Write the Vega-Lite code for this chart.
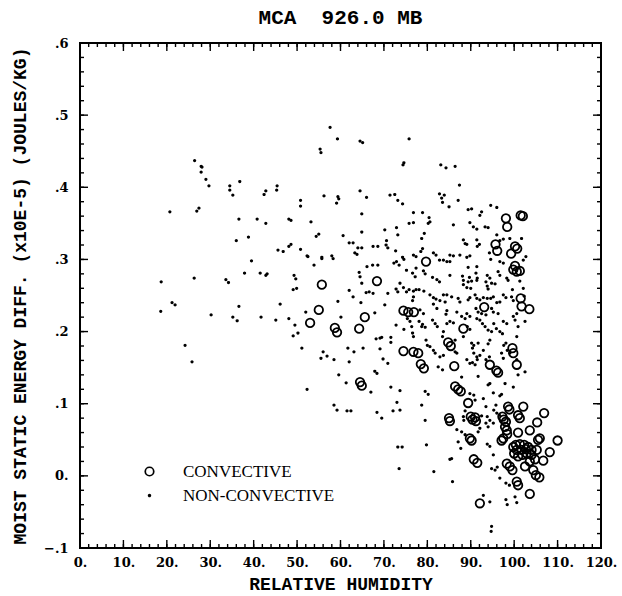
{
  "$schema": "https://vega.github.io/schema/vega-lite/v6.json",
  "width": 521,
  "height": 505,
  "padding": {"left": 80, "top": 43, "right": 21, "bottom": 48},
  "autosize": {"type": "none"},
  "background": "white",
  "title": {
    "text": "MCA\u00a0\u00a0926.0 MB",
    "font": "Liberation Mono",
    "fontSize": 21,
    "fontWeight": "bold",
    "color": "black",
    "anchor": "middle",
    "offset": 9
  },
  "config": {
    "view": {"stroke": "black", "strokeWidth": 2, "fill": null},
    "axis": {
      "domain": false,
      "tickOpacity": 0,
      "tickSize": -5,
      "labelFont": "DejaVu Serif",
      "labelFontWeight": "bold",
      "labelFontSize": 13,
      "labelColor": "black",
      "titleFont": "Liberation Mono",
      "titleFontWeight": "bold",
      "titleFontSize": 18,
      "titleColor": "black",
      "grid": false,
      "labelOverlap": false,
      "labelFlush": false
    }
  },
  "datasets": {
    "xticks": [{"v":0},{"v":2},{"v":4},{"v":6},{"v":8},{"v":10},{"v":12},{"v":14},{"v":16},{"v":18},{"v":20},{"v":22},{"v":24},{"v":26},{"v":28},{"v":30},{"v":32},{"v":34},{"v":36},{"v":38},{"v":40},{"v":42},{"v":44},{"v":46},{"v":48},{"v":50},{"v":52},{"v":54},{"v":56},{"v":58},{"v":60},{"v":62},{"v":64},{"v":66},{"v":68},{"v":70},{"v":72},{"v":74},{"v":76},{"v":78},{"v":80},{"v":82},{"v":84},{"v":86},{"v":88},{"v":90},{"v":92},{"v":94},{"v":96},{"v":98},{"v":100},{"v":102},{"v":104},{"v":106},{"v":108},{"v":110},{"v":112},{"v":114},{"v":116},{"v":118},{"v":120}],
    "yticks": [{"v":-0.1},{"v":-0.08},{"v":-0.06},{"v":-0.04},{"v":-0.02},{"v":0},{"v":0.02},{"v":0.04},{"v":0.06},{"v":0.08},{"v":0.1},{"v":0.12},{"v":0.14},{"v":0.16},{"v":0.18},{"v":0.2},{"v":0.22},{"v":0.24},{"v":0.26},{"v":0.28},{"v":0.3},{"v":0.32},{"v":0.34},{"v":0.36},{"v":0.38},{"v":0.4},{"v":0.42},{"v":0.44},{"v":0.46},{"v":0.48},{"v":0.5},{"v":0.52},{"v":0.54},{"v":0.56},{"v":0.58},{"v":0.6}],
    "noncon": [
      {"rh":26.4,"mse":0.437},{"rh":27.9,"mse":0.429},{"rh":28.1,"mse":0.428},{"rh":27.9,"mse":0.421},{"rh":29.0,"mse":0.411},{"rh":29.7,"mse":0.402},{"rh":20.7,"mse":0.366},{"rh":26.9,"mse":0.367},{"rh":27.4,"mse":0.371},{"rh":34.5,"mse":0.402},{"rh":34.5,"mse":0.396},{"rh":35.2,"mse":0.389},{"rh":36.8,"mse":0.408},{"rh":36.6,"mse":0.356},{"rh":36.0,"mse":0.326},{"rh":38.8,"mse":0.331},{"rh":37.9,"mse":0.281},{"rh":18.7,"mse":0.269},{"rh":26.3,"mse":0.274},{"rh":33.6,"mse":0.272},{"rh":34.2,"mse":0.268},
      {"rh":57.6,"mse":0.483},{"rh":59.3,"mse":0.467},{"rh":64.5,"mse":0.464},{"rh":65.1,"mse":0.462},{"rh":55.3,"mse":0.453},{"rh":55.5,"mse":0.448},{"rh":42.8,"mse":0.395},{"rh":42.4,"mse":0.390},{"rh":45.4,"mse":0.402},{"rh":45.3,"mse":0.396},{"rh":50.8,"mse":0.382},{"rh":50.8,"mse":0.374},{"rh":56.2,"mse":0.388},{"rh":59.4,"mse":0.387},{"rh":59.6,"mse":0.384},{"rh":59.1,"mse":0.378},{"rh":64.5,"mse":0.395},{"rh":66.0,"mse":0.386},{"rh":71.4,"mse":0.389},{"rh":72.5,"mse":0.390},{"rh":73.2,"mse":0.382},{"rh":40.8,"mse":0.356},{"rh":42.8,"mse":0.350},{"rh":48.1,"mse":0.356},{"rh":48.6,"mse":0.354},{"rh":53.2,"mse":0.352},{"rh":64.9,"mse":0.363},{"rh":64.9,"mse":0.338},{"rh":55.0,"mse":0.335},{"rh":54.4,"mse":0.332},{"rh":60.6,"mse":0.333},{"rh":62.0,"mse":0.323},{"rh":62.9,"mse":0.323},{"rh":64.0,"mse":0.316},{"rh":64.9,"mse":0.316},{"rh":63.3,"mse":0.309},{"rh":63.8,"mse":0.307},{"rh":67.5,"mse":0.318},{"rh":68.6,"mse":0.318},{"rh":70.6,"mse":0.326},{"rh":70.5,"mse":0.320},{"rh":70.9,"mse":0.316},{"rh":70.2,"mse":0.341},{"rh":72.9,"mse":0.344},{"rh":73.2,"mse":0.334},{"rh":72.7,"mse":0.312},{"rh":45.6,"mse":0.313},{"rh":46.8,"mse":0.311},{"rh":48.1,"mse":0.318},{"rh":48.6,"mse":0.321},{"rh":50.8,"mse":0.314},{"rh":52.3,"mse":0.305},{"rh":52.5,"mse":0.304},{"rh":55.7,"mse":0.303},{"rh":55.7,"mse":0.301},{"rh":58.0,"mse":0.305},{"rh":58.3,"mse":0.301},{"rh":53.9,"mse":0.292},{"rh":39.5,"mse":0.298},{"rh":41.5,"mse":0.281},{"rh":42.8,"mse":0.278},{"rh":43.1,"mse":0.280},{"rh":49.3,"mse":0.278},{"rh":49.7,"mse":0.273},{"rh":49.9,"mse":0.260},{"rh":49.1,"mse":0.258},{"rh":62.0,"mse":0.257},{"rh":64.3,"mse":0.282},{"rh":64.5,"mse":0.276},{"rh":64.9,"mse":0.267},{"rh":65.9,"mse":0.254},{"rh":66.6,"mse":0.255},{"rh":67.5,"mse":0.253},{"rh":66.1,"mse":0.290},{"rh":67.4,"mse":0.292},{"rh":68.6,"mse":0.292},{"rh":70.9,"mse":0.253},{"rh":72.8,"mse":0.259},{"rh":73.2,"mse":0.255},{"rh":72.3,"mse":0.295},{"rh":72.9,"mse":0.297},{"rh":73.5,"mse":0.292},{"rh":62.9,"mse":0.248},
      {"rh":18.6,"mse":0.228},{"rh":21.2,"mse":0.240},{"rh":21.9,"mse":0.237},{"rh":24.2,"mse":0.181},{"rh":25.8,"mse":0.158},{"rh":30.2,"mse":0.223},{"rh":35.2,"mse":0.220},{"rh":36.2,"mse":0.215},{"rh":36.6,"mse":0.235},{"rh":41.7,"mse":0.220},{"rh":45.1,"mse":0.216},{"rh":46.1,"mse":0.238},{"rh":48.1,"mse":0.218},{"rh":49.5,"mse":0.209},{"rh":49.1,"mse":0.194},{"rh":50.2,"mse":0.198},{"rh":51.1,"mse":0.177},{"rh":52.0,"mse":0.227},{"rh":52.3,"mse":0.120},{"rh":59.4,"mse":0.242},{"rh":60.1,"mse":0.220},{"rh":64.7,"mse":0.240},{"rh":67.9,"mse":0.226},{"rh":70.2,"mse":0.237},{"rh":56.0,"mse":0.172},{"rh":56.9,"mse":0.166},{"rh":55.5,"mse":0.163},{"rh":58.5,"mse":0.161},{"rh":61.7,"mse":0.177},{"rh":63.1,"mse":0.172},{"rh":65.2,"mse":0.177},{"rh":62.0,"mse":0.158},{"rh":59.6,"mse":0.140},{"rh":61.3,"mse":0.129},{"rh":67.0,"mse":0.116},{"rh":68.2,"mse":0.190},{"rh":69.1,"mse":0.191},{"rh":69.5,"mse":0.192},{"rh":71.6,"mse":0.192},{"rh":71.6,"mse":0.185},{"rh":72.8,"mse":0.209},{"rh":69.1,"mse":0.176},{"rh":69.8,"mse":0.162},{"rh":70.9,"mse":0.156},{"rh":67.9,"mse":0.145},{"rh":68.4,"mse":0.142},{"rh":71.6,"mse":0.123},{"rh":73.7,"mse":0.118},{"rh":73.0,"mse":0.102},{"rh":73.7,"mse":0.091},{"rh":72.1,"mse":0.090},{"rh":68.4,"mse":0.088},{"rh":69.5,"mse":0.080},{"rh":58.5,"mse":0.098},{"rh":59.2,"mse":0.091},{"rh":61.5,"mse":0.090},{"rh":62.4,"mse":0.090},{"rh":73.2,"mse":0.040},{"rh":74.2,"mse":0.040},{"rh":73.5,"mse":0.010},
      {"rh":75.8,"mse":0.467},{"rh":74.6,"mse":0.434},{"rh":74.4,"mse":0.431},{"rh":83.1,"mse":0.431},{"rh":84.3,"mse":0.427},{"rh":86.4,"mse":0.429},
      {"rh":87.4,"mse":0.403},{"rh":82.8,"mse":0.391},{"rh":83.9,"mse":0.389},{"rh":83.3,"mse":0.385},{"rh":83.5,"mse":0.379},{"rh":87.1,"mse":0.382},{"rh":85.0,"mse":0.373},{"rh":74.3,"mse":0.377},{"rh":76.8,"mse":0.365},{"rh":78.9,"mse":0.365},{"rh":80.4,"mse":0.358},{"rh":75.8,"mse":0.350},{"rh":76.8,"mse":0.351},{"rh":80.6,"mse":0.352},{"rh":80.2,"mse":0.350},{"rh":79.3,"mse":0.336},{"rh":78.7,"mse":0.329},{"rh":89.4,"mse":0.369},{"rh":90.2,"mse":0.370},{"rh":92.5,"mse":0.366},{"rh":92.1,"mse":0.361},{"rh":94.6,"mse":0.375},{"rh":96.0,"mse":0.372},{"rh":86.0,"mse":0.348},{"rh":89.8,"mse":0.351},{"rh":90.6,"mse":0.345},{"rh":91.4,"mse":0.342},{"rh":93.3,"mse":0.345},{"rh":94.0,"mse":0.344},{"rh":96.0,"mse":0.334},{"rh":96.7,"mse":0.326},{"rh":97.5,"mse":0.328},{"rh":99.0,"mse":0.329},{"rh":101.7,"mse":0.329},{"rh":88.3,"mse":0.327},{"rh":88.7,"mse":0.322},{"rh":89.1,"mse":0.321},{"rh":91.4,"mse":0.327},{"rh":92.0,"mse":0.321},{"rh":91.5,"mse":0.318},{"rh":94.3,"mse":0.309},{"rh":94.6,"mse":0.300},{"rh":89.8,"mse":0.305},{"rh":89.1,"mse":0.303},{"rh":78.9,"mse":0.315},{"rh":78.5,"mse":0.311},{"rh":76.8,"mse":0.306},{"rh":77.4,"mse":0.304},{"rh":74.3,"mse":0.303},{"rh":74.6,"mse":0.300},{"rh":81.4,"mse":0.309},{"rh":82.0,"mse":0.306},{"rh":82.8,"mse":0.299},{"rh":83.7,"mse":0.299},{"rh":84.5,"mse":0.297},{"rh":85.2,"mse":0.297},{"rh":85.2,"mse":0.306},{"rh":86.0,"mse":0.305},{"rh":87.5,"mse":0.306},{"rh":91.4,"mse":0.290},{"rh":89.4,"mse":0.289},{"rh":102.7,"mse":0.304},{"rh":102.1,"mse":0.299},{"rh":96.7,"mse":0.297},{"rh":97.5,"mse":0.295},{"rh":75.2,"mse":0.285},{"rh":77.4,"mse":0.288},{"rh":76.6,"mse":0.281},{"rh":77.2,"mse":0.276},{"rh":79.1,"mse":0.284},{"rh":79.5,"mse":0.280},{"rh":81.2,"mse":0.275},{"rh":82.2,"mse":0.272},{"rh":82.8,"mse":0.269},{"rh":85.2,"mse":0.278},{"rh":88.1,"mse":0.277},{"rh":88.3,"mse":0.271},{"rh":89.7,"mse":0.275},{"rh":89.4,"mse":0.269},{"rh":90.2,"mse":0.270},{"rh":88.3,"mse":0.265},{"rh":89.1,"mse":0.261},{"rh":90.0,"mse":0.260},{"rh":91.2,"mse":0.281},{"rh":91.5,"mse":0.274},{"rh":93.8,"mse":0.278},{"rh":94.4,"mse":0.274},{"rh":94.8,"mse":0.267},{"rh":95.6,"mse":0.266},{"rh":96.3,"mse":0.283},{"rh":96.7,"mse":0.278},{"rh":98.3,"mse":0.274},{"rh":98.6,"mse":0.271},{"rh":93.5,"mse":0.269},{"rh":93.8,"mse":0.263},{"rh":94.0,"mse":0.259},{"rh":91.4,"mse":0.271},{"rh":101.3,"mse":0.270},{"rh":99.6,"mse":0.258},{"rh":102.1,"mse":0.260},{"rh":73.7,"mse":0.267},{"rh":74.5,"mse":0.261},{"rh":75.2,"mse":0.255},{"rh":75.8,"mse":0.258},{"rh":76.8,"mse":0.256},{"rh":77.4,"mse":0.258},{"rh":78.1,"mse":0.258},{"rh":79.2,"mse":0.256},{"rh":76.8,"mse":0.248},{"rh":76.6,"mse":0.243},{"rh":80.6,"mse":0.251},{"rh":81.4,"mse":0.247},{"rh":82.0,"mse":0.245},{"rh":83.7,"mse":0.251},{"rh":84.5,"mse":0.251},{"rh":85.6,"mse":0.248},{"rh":82.9,"mse":0.243},{"rh":84.1,"mse":0.241},{"rh":87.1,"mse":0.246},{"rh":87.5,"mse":0.241},{"rh":89.4,"mse":0.244},{"rh":89.8,"mse":0.247},{"rh":91.0,"mse":0.251},{"rh":91.4,"mse":0.246},{"rh":92.1,"mse":0.244},{"rh":92.9,"mse":0.247},{"rh":93.8,"mse":0.246},{"rh":94.6,"mse":0.246},{"rh":95.2,"mse":0.248},{"rh":96.0,"mse":0.240},{"rh":96.7,"mse":0.241},{"rh":97.5,"mse":0.251},{"rh":98.1,"mse":0.247},{"rh":99.4,"mse":0.248},{"rh":99.8,"mse":0.243},{"rh":102.3,"mse":0.249},{"rh":94.8,"mse":0.232},{"rh":95.2,"mse":0.227},{"rh":96.3,"mse":0.225},{"rh":91.2,"mse":0.232},{"rh":91.7,"mse":0.227},{"rh":92.5,"mse":0.225},{"rh":93.5,"mse":0.223},{"rh":89.1,"mse":0.225},{"rh":89.8,"mse":0.221},{"rh":87.9,"mse":0.221},{"rh":88.7,"mse":0.218},{"rh":86.8,"mse":0.227},{"rh":84.3,"mse":0.224},{"rh":84.5,"mse":0.229},{"rh":81.4,"mse":0.238},{"rh":82.2,"mse":0.232},{"rh":78.3,"mse":0.230},{"rh":79.1,"mse":0.225},{"rh":75.4,"mse":0.218},{"rh":76.0,"mse":0.214},{"rh":78.1,"mse":0.214},{"rh":78.7,"mse":0.207},{"rh":81.2,"mse":0.216},{"rh":81.8,"mse":0.211},{"rh":82.3,"mse":0.207},{"rh":84.5,"mse":0.211},{"rh":85.2,"mse":0.214},{"rh":86.0,"mse":0.212},{"rh":89.2,"mse":0.207},{"rh":89.8,"mse":0.203},{"rh":91.4,"mse":0.218},{"rh":92.1,"mse":0.216},{"rh":92.7,"mse":0.211},{"rh":93.3,"mse":0.207},{"rh":94.0,"mse":0.202},{"rh":94.8,"mse":0.200},{"rh":95.3,"mse":0.211},{"rh":95.9,"mse":0.204},{"rh":97.5,"mse":0.214},{"rh":98.3,"mse":0.211},{"rh":96.7,"mse":0.200},{"rh":97.3,"mse":0.197},{"rh":99.8,"mse":0.221},{"rh":100.2,"mse":0.216},{"rh":100.6,"mse":0.225},{"rh":100.9,"mse":0.207},{"rh":100.6,"mse":0.193},{"rh":102.5,"mse":0.214},{"rh":74.6,"mse":0.203},{"rh":76.4,"mse":0.207},{"rh":76.6,"mse":0.198},{"rh":78.9,"mse":0.210},{"rh":79.5,"mse":0.206},{"rh":76.8,"mse":0.193},{"rh":83.7,"mse":0.200},{"rh":83.5,"mse":0.193},{"rh":86.4,"mse":0.188},{"rh":88.3,"mse":0.193},{"rh":90.2,"mse":0.184},{"rh":90.7,"mse":0.181},{"rh":91.7,"mse":0.184},{"rh":94.4,"mse":0.188},{"rh":94.0,"mse":0.183},{"rh":97.6,"mse":0.181},{"rh":98.1,"mse":0.184},{"rh":98.4,"mse":0.174},{"rh":99.0,"mse":0.170},{"rh":79.7,"mse":0.188},{"rh":80.0,"mse":0.181},{"rh":80.6,"mse":0.179},{"rh":81.4,"mse":0.174},{"rh":81.8,"mse":0.170},{"rh":82.9,"mse":0.165},{"rh":83.7,"mse":0.167},{"rh":86.4,"mse":0.172},{"rh":86.8,"mse":0.170},{"rh":90.4,"mse":0.177},{"rh":90.7,"mse":0.170},{"rh":91.4,"mse":0.165},{"rh":92.1,"mse":0.167},{"rh":92.9,"mse":0.174},{"rh":89.1,"mse":0.161},{"rh":89.8,"mse":0.156},{"rh":90.4,"mse":0.157},{"rh":91.0,"mse":0.154},{"rh":91.5,"mse":0.161},{"rh":97.1,"mse":0.170},{"rh":97.5,"mse":0.163},{"rh":100.6,"mse":0.161},{"rh":82.5,"mse":0.151},{"rh":83.5,"mse":0.147},{"rh":93.5,"mse":0.161},{"rh":94.3,"mse":0.165},
      {"rh":79.5,"mse":0.117},{"rh":80.2,"mse":0.113},{"rh":78.7,"mse":0.098},{"rh":79.5,"mse":0.077},{"rh":79.8,"mse":0.043},{"rh":85.2,"mse":0.023},{"rh":85.6,"mse":0.024},{"rh":81.5,"mse":0.006},{"rh":85.8,"mse":-0.008},{"rh":87.9,"mse":0.137},{"rh":91.7,"mse":0.138},{"rh":94.0,"mse":0.126},{"rh":94.4,"mse":0.128},{"rh":97.9,"mse":0.128},{"rh":99.8,"mse":0.123},{"rh":95.2,"mse":0.115},{"rh":96.7,"mse":0.111},{"rh":97.1,"mse":0.113},{"rh":89.8,"mse":0.114},{"rh":90.7,"mse":0.112},{"rh":91.0,"mse":0.105},{"rh":92.9,"mse":0.107},{"rh":93.5,"mse":0.096},{"rh":95.8,"mse":0.098},{"rh":95.3,"mse":0.091},{"rh":88.7,"mse":0.090},{"rh":88.3,"mse":0.082},{"rh":88.4,"mse":0.077},{"rh":86.8,"mse":0.064},{"rh":87.9,"mse":0.061},{"rh":88.7,"mse":0.057},{"rh":87.1,"mse":0.047},{"rh":87.7,"mse":0.038},{"rh":92.5,"mse":0.083},{"rh":93.8,"mse":0.082},{"rh":94.4,"mse":0.077},{"rh":93.5,"mse":0.073},{"rh":94.0,"mse":0.068},{"rh":95.2,"mse":0.073},{"rh":92.1,"mse":0.066},{"rh":91.7,"mse":0.061},{"rh":96.0,"mse":0.087},{"rh":96.6,"mse":0.084},{"rh":93.8,"mse":0.044},{"rh":94.4,"mse":0.041},{"rh":95.2,"mse":0.029},{"rh":94.8,"mse":0.010},{"rh":95.6,"mse":0.008},{"rh":96.1,"mse":0.012},{"rh":96.7,"mse":-0.003},{"rh":98.1,"mse":-0.010},{"rh":98.9,"mse":-0.013},{"rh":100.2,"mse":-0.029},{"rh":100.6,"mse":-0.037},{"rh":98.1,"mse":-0.033},{"rh":98.4,"mse":-0.040},{"rh":94.4,"mse":-0.036},{"rh":92.9,"mse":-0.027},{"rh":94.8,"mse":-0.070},{"rh":94.7,"mse":-0.077},{"rh":100.9,"mse":0.140},{"rh":102.5,"mse":0.144}
    ],
    "con": [
      {"rh":55.7,"mse":0.265},{"rh":68.4,"mse":0.270},{"rh":53.0,"mse":0.212},{"rh":55.0,"mse":0.230},{"rh":58.7,"mse":0.205},{"rh":59.2,"mse":0.199},{"rh":64.3,"mse":0.204},{"rh":65.6,"mse":0.220},{"rh":64.5,"mse":0.130},{"rh":64.9,"mse":0.125},
      {"rh":98.1,"mse":0.357},{"rh":98.4,"mse":0.345},{"rh":101.5,"mse":0.361},{"rh":102.0,"mse":0.360},{"rh":95.7,"mse":0.321},{"rh":96.1,"mse":0.312},{"rh":100.2,"mse":0.318},{"rh":100.7,"mse":0.315},{"rh":99.3,"mse":0.308},{"rh":79.7,"mse":0.297},{"rh":100.2,"mse":0.291},{"rh":99.8,"mse":0.286},{"rh":100.6,"mse":0.283},{"rh":101.3,"mse":0.284},{"rh":101.5,"mse":0.246},{"rh":101.7,"mse":0.235},{"rh":103.5,"mse":0.231},{"rh":93.1,"mse":0.234},{"rh":88.3,"mse":0.204},{"rh":74.5,"mse":0.229},{"rh":75.6,"mse":0.227},{"rh":76.9,"mse":0.227},{"rh":74.5,"mse":0.173},{"rh":76.8,"mse":0.172},{"rh":77.9,"mse":0.170},{"rh":78.5,"mse":0.155},{"rh":79.2,"mse":0.149},{"rh":84.8,"mse":0.185},{"rh":85.4,"mse":0.180},{"rh":86.2,"mse":0.152},{"rh":99.6,"mse":0.177},{"rh":99.8,"mse":0.170},{"rh":94.4,"mse":0.154},{"rh":100.6,"mse":0.154},
      {"rh":96.3,"mse":0.143},{"rh":95.9,"mse":0.146},{"rh":86.4,"mse":0.124},{"rh":87.1,"mse":0.120},{"rh":87.7,"mse":0.117},{"rh":89.4,"mse":0.101},{"rh":85.0,"mse":0.080},{"rh":85.2,"mse":0.076},{"rh":90.0,"mse":0.082},{"rh":90.4,"mse":0.078},{"rh":91.0,"mse":0.081},{"rh":91.2,"mse":0.076},{"rh":89.8,"mse":0.052},{"rh":90.2,"mse":0.049},{"rh":90.7,"mse":0.023},{"rh":91.5,"mse":0.018},{"rh":92.1,"mse":-0.038},{"rh":98.6,"mse":0.096},{"rh":98.9,"mse":0.092},{"rh":102.1,"mse":0.096},{"rh":106.9,"mse":0.087},{"rh":100.9,"mse":0.084},{"rh":101.3,"mse":0.080},{"rh":97.3,"mse":0.082},{"rh":97.6,"mse":0.078},{"rh":98.1,"mse":0.075},{"rh":97.9,"mse":0.068},{"rh":98.3,"mse":0.063},{"rh":105.3,"mse":0.074},{"rh":103.6,"mse":0.063},{"rh":100.9,"mse":0.060},{"rh":98.4,"mse":0.058},{"rh":97.1,"mse":0.049},{"rh":97.5,"mse":0.052},{"rh":105.5,"mse":0.050},{"rh":105.9,"mse":0.052},{"rh":110.0,"mse":0.049},{"rh":108.2,"mse":0.033},{"rh":106.7,"mse":0.021},{"rh":105.2,"mse":0.036},
      {"rh":99.8,"mse":0.040},{"rh":100.4,"mse":0.043},{"rh":101.3,"mse":0.044},{"rh":102.3,"mse":0.043},{"rh":103.2,"mse":0.040},{"rh":104.0,"mse":0.036},{"rh":100.0,"mse":0.031},{"rh":100.9,"mse":0.027},{"rh":101.9,"mse":0.029},{"rh":102.9,"mse":0.031},{"rh":104.0,"mse":0.029},{"rh":100.6,"mse":0.036},{"rh":101.7,"mse":0.036},{"rh":102.7,"mse":0.037},{"rh":98.3,"mse":0.017},{"rh":99.0,"mse":0.013},{"rh":99.6,"mse":0.008},{"rh":102.5,"mse":0.013},{"rh":104.4,"mse":0.008},{"rh":105.0,"mse":0.001},{"rh":105.8,"mse":-0.002},{"rh":100.6,"mse":-0.008},{"rh":100.9,"mse":-0.013},{"rh":103.6,"mse":-0.025},{"rh":103.6,"mse":0.020},{"rh":104.8,"mse":0.023}
    ]
  },
  "layer": [
    {
      "data": {"name": "noncon"},
      "transform": [{"calculate": "'NON-CONVECTIVE'", "as": "type"}],
      "mark": {"type": "point", "shape": "circle", "strokeWidth": 1.5, "opacity": 1},
      "encoding": {
        "x": {
          "field": "rh", "type": "quantitative",
          "scale": {"domain": [0, 120], "nice": false, "zero": false},
          "axis": {
            "orient": "bottom",
            "title": "RELATIVE HUMIDITY",
            "titlePadding": 6,
            "values": [0, 10, 20, 30, 40, 50, 60, 70, 80, 90, 100, 110, 120],
            "labelExpr": "format(datum.value, 'd') + '.'",
            "labelPadding": 13
          }
        },
        "y": {
          "field": "mse", "type": "quantitative",
          "scale": {"domain": [-0.1, 0.6], "nice": false, "zero": false},
          "axis": {
            "orient": "left",
            "title": "MOIST STATIC ENERGY DIFF. (x10E-5) (JOULES/KG)",
            "titlePadding": 14,
            "values": [-0.1, 0, 0.1, 0.2, 0.3, 0.4, 0.5, 0.6],
            "labelExpr": "abs(datum.value) < 1e-9 ? '0.' : replace(format(datum.value, '.1f'), '0.', '.')",
            "labelPadding": 17
          }
        },
        "size": {
          "field": "type", "type": "ordinal",
          "scale": {"domain": ["CONVECTIVE", "NON-CONVECTIVE"], "range": [72, 3]},
          "legend": {
            "orient": "none", "legendX": 61, "legendY": 420, "title": null, "padding": 0,
            "direction": "vertical",
            "labelFont": "Liberation Serif", "labelFontSize": 17, "labelColor": "black",
            "labelOffset": 25, "rowPadding": 6, "symbolType": "circle", "symbolStrokeWidth": 1.7
          }
        },
        "fill": {
          "field": "type", "type": "nominal",
          "scale": {"domain": ["CONVECTIVE", "NON-CONVECTIVE"], "range": ["transparent", "black"]},
          "legend": {
            "orient": "none", "legendX": 61, "legendY": 420, "title": null, "padding": 0,
            "direction": "vertical",
            "labelFont": "Liberation Serif", "labelFontSize": 17, "labelColor": "black",
            "labelOffset": 25, "rowPadding": 6, "symbolType": "circle", "symbolStrokeWidth": 1.7
          }
        },
        "stroke": {
          "field": "type", "type": "nominal",
          "scale": {"domain": ["CONVECTIVE", "NON-CONVECTIVE"], "range": ["black", "black"]},
          "legend": {
            "orient": "none", "legendX": 61, "legendY": 420, "title": null, "padding": 0,
            "direction": "vertical",
            "labelFont": "Liberation Serif", "labelFontSize": 17, "labelColor": "black",
            "labelOffset": 25, "rowPadding": 6, "symbolType": "circle", "symbolStrokeWidth": 1.7
          }
        }
      }
    },
    {
      "data": {"name": "con"},
      "transform": [{"calculate": "'CONVECTIVE'", "as": "type"}],
      "mark": {"type": "point", "shape": "circle", "strokeWidth": 1.8, "opacity": 1},
      "encoding": {
        "x": {"field": "rh", "type": "quantitative"},
        "y": {"field": "mse", "type": "quantitative"},
        "size": {"field": "type", "type": "ordinal"},
        "fill": {"field": "type", "type": "nominal"},
        "stroke": {"field": "type", "type": "nominal"}
      }
    },
    {
      "data": {"name": "xticks"},
      "mark": {"type": "tick", "orient": "vertical", "color": "black", "opacity": 1, "thickness": 1.4, "size": 4, "yOffset": -2},
      "encoding": {"x": {"field": "v", "type": "quantitative"}, "y": {"datum": -0.1, "type": "quantitative"}}
    },
    {
      "data": {"name": "xticks"},
      "mark": {"type": "tick", "orient": "vertical", "color": "black", "opacity": 1, "thickness": 1.4, "size": 4, "yOffset": 2},
      "encoding": {"x": {"field": "v", "type": "quantitative"}, "y": {"datum": 0.6, "type": "quantitative"}}
    },
    {
      "data": {"name": "xticks"},
      "transform": [{"filter": "datum.v % 10 === 0"}],
      "mark": {"type": "tick", "orient": "vertical", "color": "black", "opacity": 1, "thickness": 1.4, "size": 8, "yOffset": -4},
      "encoding": {"x": {"field": "v", "type": "quantitative"}, "y": {"datum": -0.1, "type": "quantitative"}}
    },
    {
      "data": {"name": "xticks"},
      "transform": [{"filter": "datum.v % 10 === 0"}],
      "mark": {"type": "tick", "orient": "vertical", "color": "black", "opacity": 1, "thickness": 1.4, "size": 8, "yOffset": 4},
      "encoding": {"x": {"field": "v", "type": "quantitative"}, "y": {"datum": 0.6, "type": "quantitative"}}
    },
    {
      "data": {"name": "yticks"},
      "mark": {"type": "tick", "orient": "horizontal", "color": "black", "opacity": 1, "thickness": 1.4, "size": 4, "xOffset": 2},
      "encoding": {"y": {"field": "v", "type": "quantitative"}, "x": {"datum": 0, "type": "quantitative"}}
    },
    {
      "data": {"name": "yticks"},
      "mark": {"type": "tick", "orient": "horizontal", "color": "black", "opacity": 1, "thickness": 1.4, "size": 4, "xOffset": -2},
      "encoding": {"y": {"field": "v", "type": "quantitative"}, "x": {"datum": 120, "type": "quantitative"}}
    },
    {
      "data": {"name": "yticks"},
      "transform": [{"filter": "abs(datum.v * 10 - round(datum.v * 10)) < 1e-6"}],
      "mark": {"type": "tick", "orient": "horizontal", "color": "black", "opacity": 1, "thickness": 1.4, "size": 8, "xOffset": 4},
      "encoding": {"y": {"field": "v", "type": "quantitative"}, "x": {"datum": 0, "type": "quantitative"}}
    },
    {
      "data": {"name": "yticks"},
      "transform": [{"filter": "abs(datum.v * 10 - round(datum.v * 10)) < 1e-6"}],
      "mark": {"type": "tick", "orient": "horizontal", "color": "black", "opacity": 1, "thickness": 1.4, "size": 8, "xOffset": -4},
      "encoding": {"y": {"field": "v", "type": "quantitative"}, "x": {"datum": 120, "type": "quantitative"}}
    }
  ]
}
